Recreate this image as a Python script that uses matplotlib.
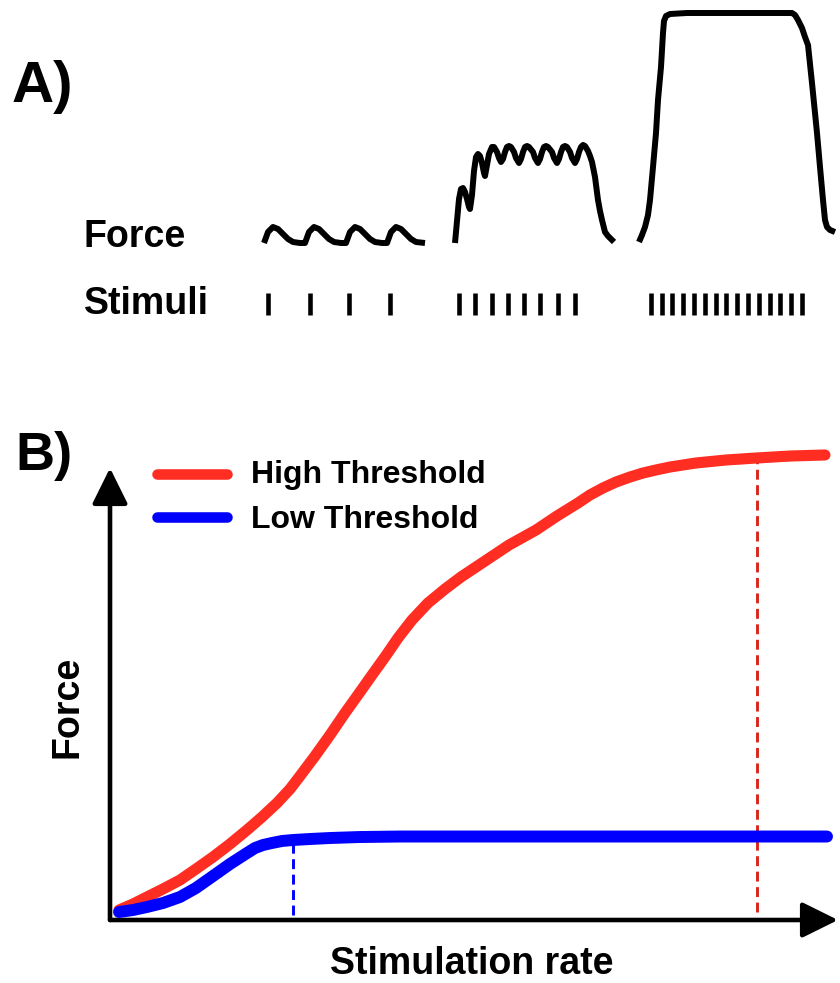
import matplotlib
matplotlib.use("Agg")
import matplotlib.pyplot as plt
from matplotlib.lines import Line2D

plt.rcParams['font.family'] = ['Liberation Sans', 'DejaVu Sans']
plt.rcParams['font.weight'] = 'bold'

W, H = 840, 983

# ---------------- Panel A data (time, force) ----------------
trace1_t = [264, 268, 273, 278, 283, 288, 293, 300, 305, 309, 314, 319, 324, 329, 334, 341,
            346, 350, 355, 360, 365, 370, 375, 382, 387, 391, 396, 401, 406, 411, 416, 425]
trace1_f = [0, 11, 16, 14, 9, 4, 1, 0, 0, 11, 16, 14, 9, 4, 1, 0,
            0, 11, 16, 14, 9, 4, 1, 0, 0, 11, 16, 14, 9, 4, 1, 0]

trace2_t = [455, 457, 459, 461, 463, 465, 467, 469, 470, 472, 474, 476, 478, 480, 482, 484,
            485, 487, 489, 492, 494, 497, 499, 501, 503, 505, 507, 509, 511, 514, 516, 519,
            521, 523, 525, 527, 529, 533, 535, 538, 540, 542, 544, 546, 548, 552, 554, 557,
            559, 561, 563, 565, 567, 570, 572, 575, 577, 579, 581, 583, 585, 588, 590, 592,
            595, 598, 600, 602, 605, 608, 610, 614]
trace2_f = [0, 22, 44, 54, 55, 51, 44, 36, 34, 48, 72, 86, 89, 87, 80, 70,
            67, 78, 89, 96, 96, 91, 85, 81, 84, 91, 96, 97, 96, 91, 85, 80,
            84, 91, 96, 97, 96, 91, 85, 80, 84, 91, 96, 97, 96, 91, 85, 80,
            84, 91, 96, 97, 96, 91, 85, 80, 84, 91, 96, 98, 97, 92, 87, 81,
            66, 43, 32, 23, 11, 7, 5, 1]

trace3_t = [639, 642, 645, 648, 650, 653, 656, 658, 661, 663, 664, 666, 670, 687, 792, 795,
            798, 802, 805, 808, 812, 817, 820, 823, 825, 827, 830, 835]
trace3_f = [1, 8, 16, 28, 43, 76, 110, 143, 176, 210, 222, 227, 229, 230, 230, 228,
            223, 215, 206, 198, 160, 110, 76, 43, 23, 16, 13, 11]

stim1 = [268, 310, 349, 390]
stim2 = [459, 475, 492, 508, 524, 540, 558, 575]
stim3 = [651, 662, 672, 683, 694, 705, 716, 726, 737, 748, 759, 770, 780, 791, 802]

# ---------------- Panel B data ----------------
high_x = [1.24, 3.16, 5.08, 7.28, 9.62, 11.81, 14.15, 16.48, 18.82, 20.88, 22.94, 24.73,
          26.10, 28.16, 30.22, 32.28, 34.34, 35.99, 37.77, 39.56, 41.48, 43.68, 46.02,
          48.21, 51.51, 54.81, 58.52, 61.40, 64.29, 65.93, 67.72, 69.51, 71.43, 73.21,
          75.00, 76.92, 80.49, 84.62, 88.74, 93.41, 98.21]
high_y = [2.21, 3.54, 5.09, 6.86, 8.85, 11.28, 13.94, 16.81, 19.91, 22.79, 25.88, 28.98,
          31.86, 36.28, 40.93, 45.80, 50.44, 54.20, 58.19, 62.39, 66.37, 70.13, 73.23,
          75.88, 79.42, 82.96, 86.28, 89.38, 92.26, 94.03, 95.58, 96.90, 98.01, 98.89,
          99.56, 100.22, 101.11, 101.77, 102.21, 102.65, 102.88]

low_x = [1.24, 3.16, 5.08, 7.28, 9.62, 11.81, 14.15, 16.48, 18.82, 19.92, 21.02, 22.25,
         23.63, 25.14, 27.47, 30.22, 34.34, 39.84, 98.49]
low_y = [1.77, 2.21, 2.88, 3.76, 5.09, 7.08, 9.73, 12.39, 14.82, 15.93, 16.59, 17.04,
         17.48, 17.70, 17.92, 18.14, 18.36, 18.47, 18.47]

low_sat_x, low_sat_y = 25.14, 17.7
high_sat_x, high_sat_y = 88.9, 102.3

labels = ['High Threshold', 'Low Threshold']
RED, BLUE, DRED = '#FF2D22', '#0000FF', '#D9261C'
colors = [RED, BLUE]


def pxf(x, y):
    return x / W, 1 - y / H


fig = plt.figure(figsize=(W / 100, H / 100), dpi=100)

# ---------- Panel A ----------
axA = fig.add_axes([0, (H - 330) / H, 1, 330 / H])
axA.set_xlim(0, 840)
axA.set_ylim(-87, 243)
axA.axis('off')
for t, f in [(trace1_t, trace1_f), (trace2_t, trace2_f), (trace3_t, trace3_f)]:
    axA.plot(t, f, color='black', lw=4.3, solid_joinstyle='round', solid_capstyle='butt',
             clip_on=False)
for s in (stim1, stim2, stim3):
    axA.vlines(s, -72, -50, color='black', lw=3.3)

fig.text(*pxf(12, 102), 'A)', fontsize=42, fontweight='bold', ha='left', va='baseline')
fig.text(*pxf(84, 247), 'Force', fontsize=27, fontweight='bold', ha='left', va='baseline')
fig.text(*pxf(84, 314), 'Stimuli', fontsize=27, fontweight='bold', ha='left', va='baseline')

# ---------- Panel B ----------
x0, x1, yb, yt = 110, 838, 920, 468
axB = fig.add_axes([x0 / W, (H - yb) / H, (x1 - x0) / W, (yb - yt) / H])
axB.set_xlim(0, 100)
axB.set_ylim(0, 100)
axB.axis('off')

axB.plot([low_sat_x, low_sat_x], [1.0, low_sat_y], color=BLUE, lw=2.1,
         linestyle=(0, (3.4, 1.9)), zorder=2, clip_on=False)
axB.plot([high_sat_x, high_sat_x], [1.8, high_sat_y], color=DRED, lw=2.1,
         linestyle=(0, (3.4, 1.9)), zorder=2, clip_on=False)

axB.plot(high_x, high_y, color=RED, lw=8.0, solid_capstyle='round',
         solid_joinstyle='round', zorder=3, clip_on=False, label=labels[0])
axB.plot(low_x, low_y, color=BLUE, lw=8.6, solid_capstyle='round',
         solid_joinstyle='round', zorder=4, clip_on=False, label=labels[1])

arrow_kw = dict(arrowstyle='-|>,head_length=1.05,head_width=0.52', mutation_scale=21,
                lw=3.3, color='black', shrinkA=0, shrinkB=0)
axB.annotate('', xy=(1, 0), xytext=(0, 0), xycoords='axes fraction',
             textcoords='axes fraction', arrowprops=arrow_kw)
axB.annotate('', xy=(0, 1), xytext=(0, 0), xycoords='axes fraction',
             textcoords='axes fraction', arrowprops=arrow_kw)

# legend (manual)
for i, (lab, col) in enumerate(zip(labels, colors)):
    ly = 474 + 43 * i
    fig.add_artist(Line2D([157 / W, 227 / W], [1 - ly / H, 1 - ly / H],
                          transform=fig.transFigure, color=col, lw=7.6,
                          solid_capstyle='round'))
    fig.text(*pxf(251, 483 + 45 * i), lab, fontsize=23, fontweight='bold',
             ha='left', va='baseline')

fig.text(*pxf(15, 470), 'B)', fontsize=39, fontweight='bold', ha='left', va='baseline')
fig.text(*pxf(472, 982), 'Stimulation rate', fontsize=27, fontweight='bold',
         ha='center', va='bottom')
fig.text(*pxf(67, 707), 'Force', fontsize=27, fontweight='bold', rotation=90,
         ha='center', va='center')

fig.savefig('out.png', dpi=100)
